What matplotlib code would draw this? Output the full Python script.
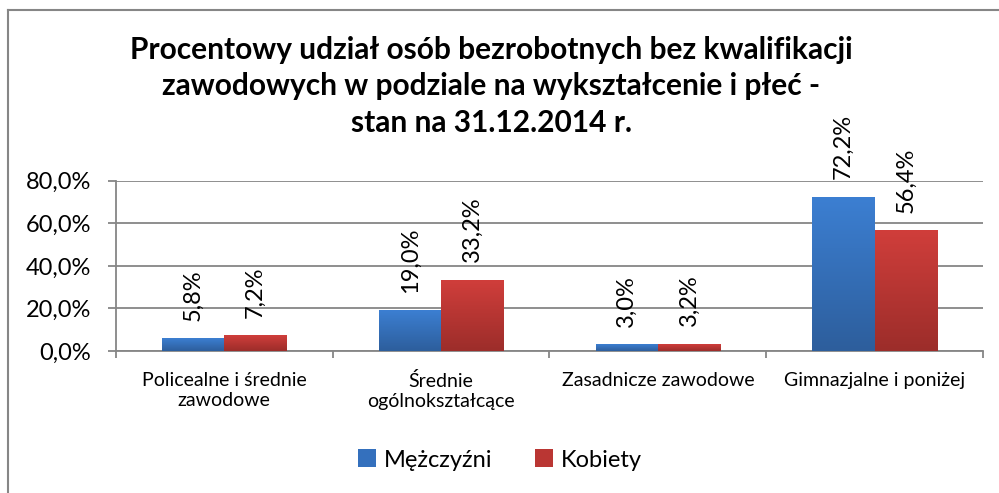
#!/usr/bin/env python3

import matplotlib
matplotlib.use('Agg')
import matplotlib.pyplot as plt
import numpy as np
from matplotlib.colors import LinearSegmentedColormap
from matplotlib.lines import Line2D
from matplotlib.patches import Patch

categories = ['Policealne i średnie\nzawodowe', 'Średnie\nogólnokształcące',
              'Zasadnicze zawodowe', 'Gimnazjalne i poniżej']
men = [5.8, 19.0, 3.0, 72.2]
women = [7.2, 33.2, 3.2, 56.4]
series_names = ['Mężczyźni', 'Kobiety']
yticks = [0, 20, 40, 60, 80]
title_lines = ['Procentowy udział osób bezrobotnych bez kwalifikacji',
               'zawodowych w podziale na wykształcenie i płeć -',
               'stan na 31.12.2014 r.']

FONT = 'Lato'
GRID = '#868686'


def gradient_bars(ax, bars, top_color, bottom_color):
    cmap = LinearSegmentedColormap.from_list('g', [bottom_color, top_color])
    grad = np.linspace(0, 1, 256).reshape(-1, 1)
    for b in bars:
        x0, y0 = b.get_x(), b.get_y()
        w, h = b.get_width(), b.get_height()
        ax.imshow(grad, extent=[x0, x0 + w, y0, y0 + h], origin='lower',
                  aspect='auto', cmap=cmap, zorder=3, interpolation='bilinear')
        b.set_visible(False)


def main():
    '''Main function'''
    plt.rcParams['font.family'] = [FONT, 'DejaVu Sans']
    fig = plt.figure(figsize=(9.99, 4.93), dpi=100)
    ax = fig.add_axes([0.116, 0.288, 0.868, 0.3455])

    x = np.arange(len(categories))
    width = 0.287
    b1 = ax.bar(x - width / 2, men, width=width)
    b2 = ax.bar(x + width / 2, women, width=width)
    gradient_bars(ax, b1, '#3C7FD2', '#2D5E9C')
    gradient_bars(ax, b2, '#D03E3B', '#9C2D2A')

    for bars, vals in ((b1, men), (b2, women)):
        for b, v in zip(bars, vals):
            ax.annotate(('%.1f%%' % v).replace('.', ','),
                        (b.get_x() + b.get_width() / 2, v),
                        xytext=(0, 13), textcoords='offset points',
                        rotation=90, ha='center', va='bottom', fontsize=17)

    ax.set_xlim(-0.5, len(categories) - 0.5)
    ax.set_ylim(0, 80)
    ax.set_yticks(yticks)
    ax.set_yticklabels([('%.1f%%' % t).replace('.', ',') for t in yticks], fontsize=17)
    ax.set_xticks(x)
    ax.set_xticklabels(categories, fontsize=14, linespacing=1.2)
    ax.set_xticks(np.arange(len(categories) + 1) - 0.5, minor=True)
    ax.tick_params(axis='x', which='major', length=0, pad=15)
    ax.tick_params(axis='x', which='minor', length=5, color=GRID, width=1.3)
    ax.tick_params(axis='y', length=6, color=GRID, width=1.3, pad=12)
    ax.yaxis.grid(True, color=GRID, linewidth=1.3, zorder=0)
    ax.set_axisbelow(True)
    for s in ('top', 'right'):
        ax.spines[s].set_visible(False)
    for s in ('left', 'bottom'):
        ax.spines[s].set_color(GRID)
        ax.spines[s].set_linewidth(1.3)

    # title, one text per line
    for i, line in enumerate(title_lines):
        fig.text(0.492, 1 - (50 + 36.5 * i) / 493, line, ha='center', va='center',
                 fontsize=21.5, fontweight='bold')

    handles = [Patch(facecolor='#3470BD'), Patch(facecolor='#BA3633')]
    fig.legend(handles, series_names, loc='center', bbox_to_anchor=(0.5, 0.067),
               ncol=2, frameon=False, fontsize=17, handlelength=0.8,
               handleheight=0.8, handletextpad=0.3, columnspacing=1.8)

    # outer frame (only top and left edges visible in the picture)
    fig.add_artist(Line2D([7.5 / 999, 7.5 / 999], [0, 1 - 9.5 / 493],
                          transform=fig.transFigure, color=GRID, lw=1.5))
    fig.add_artist(Line2D([7.5 / 999, 1], [1 - 9.5 / 493, 1 - 9.5 / 493],
                          transform=fig.transFigure, color=GRID, lw=1.5))

    plt.savefig('out.png', dpi=100)


if __name__ == '__main__':
    main()
